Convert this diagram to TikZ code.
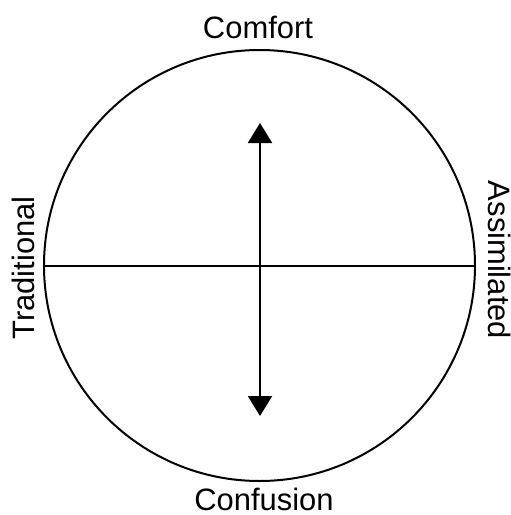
\documentclass[tikz,border=0pt]{standalone}
\usepackage{fontspec}
\setmainfont{Liberation Sans}
\usetikzlibrary{arrows.meta}
\begin{document}
\begin{tikzpicture}[x=0.75pt,y=-0.75pt,line width=1.5pt,
  >={Triangle[length=15pt,width=18pt]},
  lbl/.style={font=\fontsize{23.2}{27}\selectfont,inner sep=0pt}]
\useasboundingbox (0,0) rectangle (511,515);
% Mittelpunkt und Kreis
\coordinate (M) at (259.5,265.5);
\draw (M) circle (215.5);
% Waagerechte Achse
\coordinate (L) at (44,265.5);
\coordinate (R) at (475,265.5);
\draw (L) -- (R);
% Senkrechter Doppelpfeil
\coordinate (T) at (260,123);
\coordinate (U) at (260,416);
\draw[<->] (T) -- (U);
% Beschriftungen
\node[lbl,anchor=base] (comfort) at (258,38) {Comfort};
\node[lbl,anchor=base] (confusion) at (264,510) {Confusion};
\node[lbl,anchor=base,rotate=90] (trad) at (35,268) {Traditional};
\node[lbl,anchor=base,rotate=-90] (assim) at (488,260) {Assimilated};
\end{tikzpicture}
\end{document}
